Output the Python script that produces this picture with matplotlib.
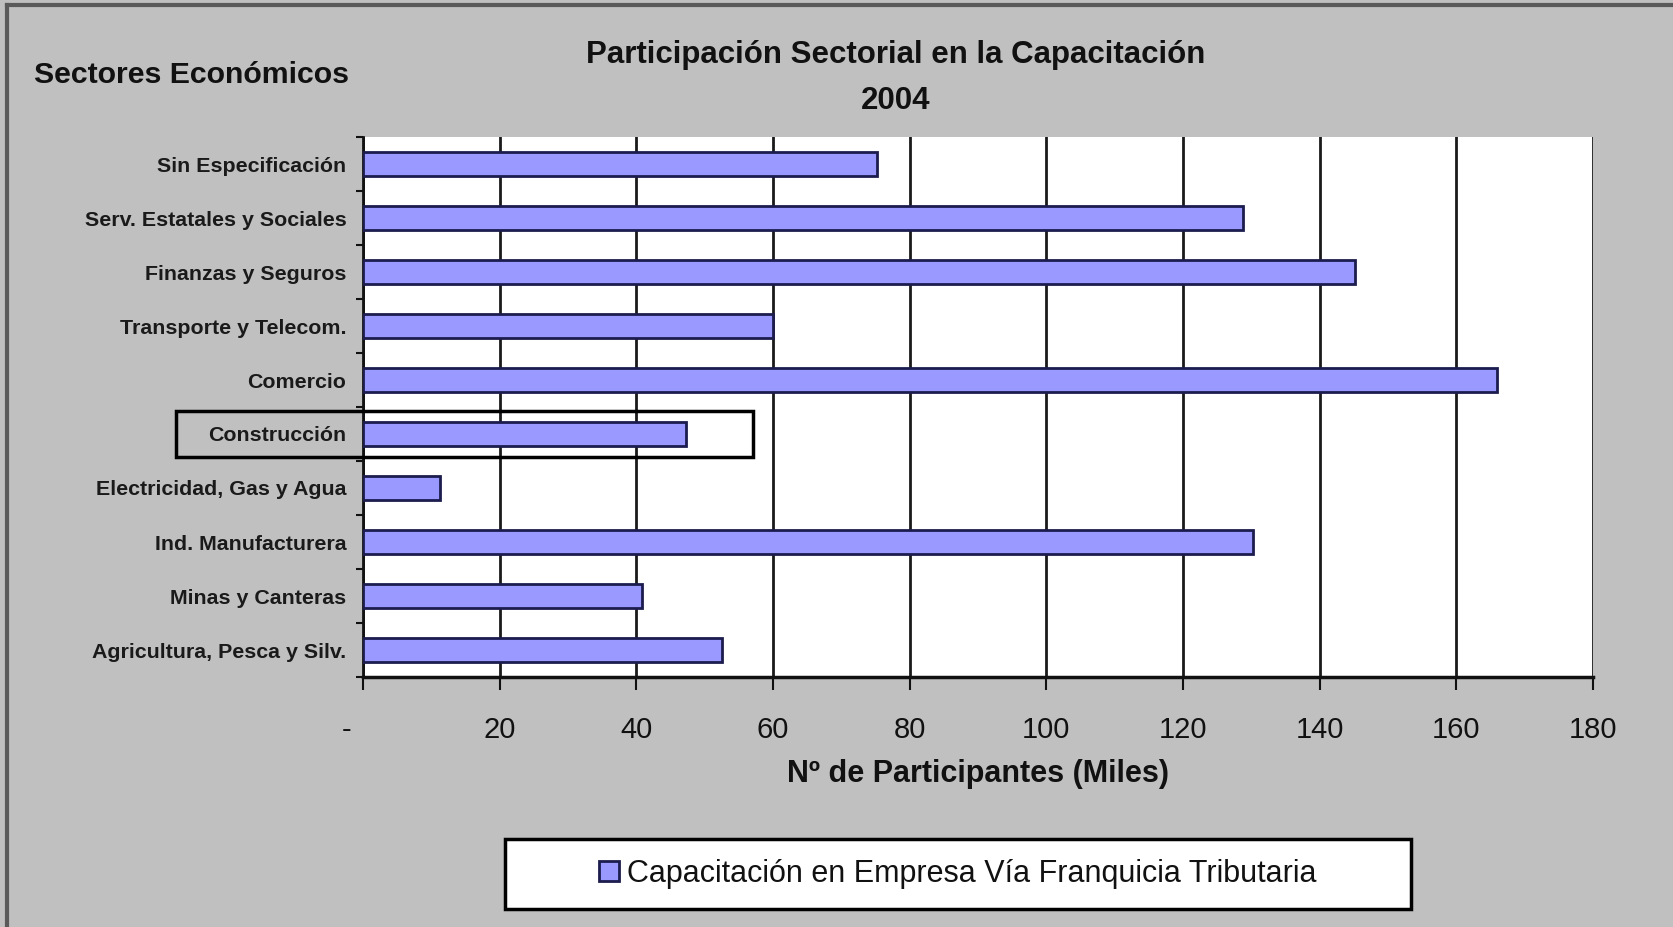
import matplotlib
matplotlib.use("Agg")
import matplotlib.pyplot as plt
import matplotlib.transforms as mtransforms
from matplotlib.patches import Rectangle
from matplotlib.lines import Line2D
import numpy as np

plt.rcParams['font.family'] = ['Liberation Sans', 'DejaVu Sans']

# ---- data ----
categories = [
    "Agricultura, Pesca y Silv.",
    "Minas y Canteras",
    "Ind. Manufacturera",
    "Electricidad, Gas y Agua",
    "Construcción",
    "Comercio",
    "Transporte y Telecom.",
    "Finanzas y Seguros",
    "Serv. Estatales y Sociales",
    "Sin Especificación",
]
values = [52.5, 40.9, 130.2, 11.3, 47.2, 165.9, 60.0, 145.2, 128.8, 75.2]
x_ticks = [0, 20, 40, 60, 80, 100, 120, 140, 160, 180]
x_tick_labels = ["-    ", "20", "40", "60", "80", "100", "120", "140", "160", "180"]
series_name = "Capacitación en Empresa Vía Franquicia Tributaria"
title_line1 = "Participación Sectorial en la Capacitación"
title_line2 = "2004"
ylabel_text = "Sectores Económicos"
xlabel_text = "Nº de Participantes (Miles)"
highlight = "Construcción"

W, H = 1674, 927
fig = plt.figure(figsize=(W / 100, H / 100), dpi=100)
fig.patch.set_facecolor("#c0c0c0")

# outer frame (left and top edges)
fig.add_artist(Line2D([7 / W, 7 / W], [0, 1 - 5 / H], transform=fig.transFigure,
                      color="#5a5a5a", lw=3))
fig.add_artist(Line2D([7 / W, 1], [1 - 5 / H, 1 - 5 / H], transform=fig.transFigure,
                      color="#5a5a5a", lw=3))

left, right, top, bottom = 363, 1593, 137, 677
ax = fig.add_axes([left / W, 1 - bottom / H, (right - left) / W, (bottom - top) / H])
ax.set_facecolor("white")

y = np.arange(len(categories))
ax.barh(y, values, height=0.45, color="#9999ff", edgecolor="#1c1c4e", linewidth=2,
        zorder=3, label=series_name)

ax.set_xlim(0, 180)
ax.set_ylim(-0.5, len(categories) - 0.5)

# grid
ax.set_xticks(x_ticks)
ax.set_xticklabels(x_tick_labels, fontsize=21, color="#111111")
ax.xaxis.grid(True, color="#1a1a1a", linewidth=2, zorder=1)
ax.tick_params(axis="x", direction="out", length=9, width=1.5, pad=19, color="#111111")

# y: labels at centers, ticks between categories
ax.set_yticks(y)
ax.set_yticklabels(categories, fontsize=15.4, fontweight="bold", color="#1a1a1a")
ax.tick_params(axis="y", which="major", length=0, pad=12)
ax.set_yticks(np.arange(-0.5, len(categories), 1.0), minor=True)
ax.tick_params(axis="y", which="minor", direction="out", length=5, width=1.5, color="#111111")

ax.spines["top"].set_visible(False)
ax.spines["right"].set_visible(False)
ax.spines["left"].set_linewidth(2)
ax.spines["bottom"].set_linewidth(2.5)
ax.spines["left"].set_color("#111111")
ax.spines["bottom"].set_color("#111111")

ax.set_xlabel(xlabel_text, fontsize=22, fontweight="bold", labelpad=11, color="#111111")

# highlight box around "Construcción"
idx = categories.index(highlight)
trans = mtransforms.blended_transform_factory(ax.transAxes, ax.transData)
x0 = (176 - left) / (right - left)
x1 = (753 - left) / (right - left)
ax.add_patch(Rectangle((x0, idx - 0.43), x1 - x0, 0.86, transform=trans, fill=False,
                       edgecolor="black", linewidth=2.5, clip_on=False, zorder=5))

# titles
fig.text(896 / W, 1 - 55 / H, title_line1, ha="center",
         va="center", fontsize=22.5, fontweight="bold", color="#111111")
fig.text(896 / W, 1 - 101 / H, title_line2, ha="center", va="center", fontsize=22.5,
         fontweight="bold", color="#111111")
fig.text(34 / W, 1 - 75 / H, ylabel_text, ha="left", va="center", fontsize=21.8,
         fontweight="bold", color="#111111")

# legend box
lx0, lx1, ly0, ly1 = 505, 1411, 839, 909
fig.add_artist(Rectangle((lx0 / W, 1 - ly1 / H), (lx1 - lx0) / W, (ly1 - ly0) / H,
                         transform=fig.transFigure, facecolor="white",
                         edgecolor="black", linewidth=2.5, zorder=1))
leg = fig.legend(loc="center", bbox_to_anchor=(958 / W, 1 - 874 / H), fontsize=22,
                 frameon=False, handlelength=0.65, handleheight=0.65, handletextpad=0.25,
                 borderpad=0.3, borderaxespad=0)
leg.set_zorder(3)
for t in leg.get_texts():
    t.set_color("#111111")

fig.savefig("out.png", dpi=100, facecolor=fig.get_facecolor())
